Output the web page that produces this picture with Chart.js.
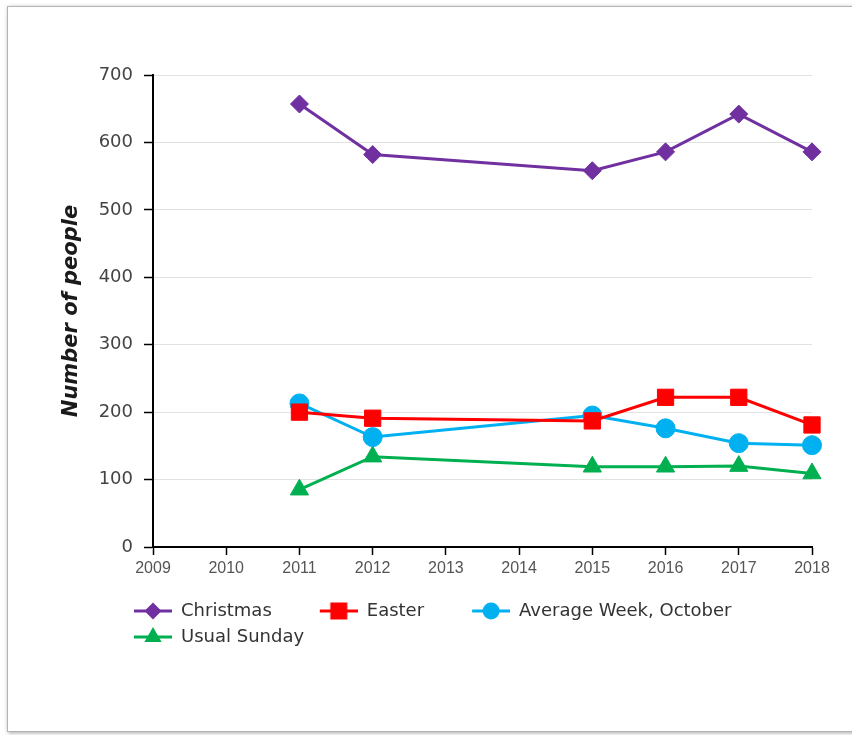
<!DOCTYPE html>
<html>
<head>
<meta charset="utf-8">
<script src="https://cdn.jsdelivr.net/npm/chart.js@4.4.1/dist/chart.umd.min.js"></script>
<style>
  html, body { margin: 0; padding: 0; background: #fff; overflow: hidden; }
  #frame { position: absolute; left: 7px; top: 6px; width: 900px; height: 724px;
           border: 1px solid #b4b4b4; box-shadow: 1px 1px 4px rgba(0,0,0,0.35); background: #fff; }
  #c { position: absolute; left: 0; top: 0; }
</style>
</head>
<body>
<div id="frame"></div>
<canvas id="c" width="852" height="735"></canvas>
<script>
// ---- data ----
const years = [2011, 2012, 2015, 2016, 2017, 2018];
const christmas = [657, 582, 558, 586, 642, 586];
const easter = [200, 191, 187, 222, 222, 181];
const avgWeekOctober = [213, 163, 195, 176, 154, 151];
const usualSunday = [85, 134, 119, 119, 120, 109];
const seriesNames = ['Christmas', 'Easter', 'Average Week, October', 'Usual Sunday'];
const xTickLabels = ['2009','2010','2011','2012','2013','2014','2015','2016','2017','2018'];
const yTickLabels = ['0','100','200','300','400','500','600','700'];

// ---- styles ----
const colors = ['#7030a0', '#ff0000', '#00b0f0', '#00b050'];
const shapes = ['rectRot', 'rect', 'circle', 'triangle'];
const radii = [9, 11.5, 9.5, 10.5];
const G = 40; // legend icon left gap

function pts(vals) { return years.map((y, i) => ({ x: y, y: vals[i] })); }

function makeIcon(color, shape) {
  const c = document.createElement('canvas');
  c.width = G + 38; c.height = 24;
  const ctx = c.getContext('2d');
  const cx = G + 19, cy = 12;
  ctx.strokeStyle = color; ctx.fillStyle = color; ctx.lineWidth = 3;
  ctx.beginPath(); ctx.moveTo(G, cy); ctx.lineTo(G + 38, cy); ctx.stroke();
  ctx.beginPath();
  if (shape === 'rectRot') {
    const r = 8.5;
    ctx.moveTo(cx - r, cy); ctx.lineTo(cx, cy - r); ctx.lineTo(cx + r, cy); ctx.lineTo(cx, cy + r);
  } else if (shape === 'rect') {
    const s = 8.5; ctx.rect(cx - s, cy - s, 2 * s, 2 * s);
  } else if (shape === 'circle') {
    ctx.arc(cx, cy, 8.5, 0, Math.PI * 2);
  } else {
    const r = 10;
    ctx.moveTo(cx, cy - r);
    ctx.lineTo(cx + r * Math.sin(2 * Math.PI / 3), cy - r * Math.cos(2 * Math.PI / 3));
    ctx.lineTo(cx + r * Math.sin(4 * Math.PI / 3), cy - r * Math.cos(4 * Math.PI / 3));
  }
  ctx.closePath(); ctx.fill();
  return c;
}
const icons = colors.map((c, i) => makeIcon(c, shapes[i]));

const allSeries = [christmas, easter, avgWeekOctober, usualSunday];
const datasets = allSeries.map((vals, i) => ({
  label: seriesNames[i],
  data: pts(vals),
  borderColor: colors[i],
  backgroundColor: colors[i],
  borderWidth: 3,
  pointStyle: shapes[i],
  pointRadius: radii[i],
  pointBorderWidth: 1,
  pointBackgroundColor: colors[i],
  pointBorderColor: colors[i],
  tension: 0,
  fill: false,
  clip: false
}));

new Chart(document.getElementById('c'), {
  type: 'line',
  data: { datasets },
  options: {
    responsive: false,
    animation: false,
    layout: { padding: { left: 86, right: 40, top: 75, bottom: 79 } },
    scales: {
      x: {
        type: 'linear', min: 2009, max: 2018,
        afterBuildTicks: (s) => { s.ticks = xTickLabels.map(t => ({ value: Number(t) })); },
        afterFit: (s) => { s.height = 47; },
        ticks: { callback: (v) => String(v), color: '#555', maxRotation: 0, autoSkip: false,
                 padding: 4, font: { family: 'Liberation Sans', size: 16 } },
        grid: { drawOnChartArea: false, drawTicks: true, tickLength: 8, tickColor: '#000', tickWidth: 1.5 },
        border: { color: '#000', width: 2 }
      },
      y: {
        min: 0, max: 700,
        afterBuildTicks: (s) => { s.ticks = yTickLabels.map(t => ({ value: Number(t) })); },
        afterFit: (s) => { s.width = 67; },
        ticks: { callback: (v) => String(v), color: '#444', padding: 11,
                 font: { family: 'DejaVu Sans', size: 18 } },
        grid: { color: '#e2e2e2', lineWidth: 1, tickColor: '#000', tickLength: 9, tickWidth: 1.5 },
        border: { color: '#000', width: 2 },
        title: { display: true, text: 'Number of people', color: '#1a1a1a',
                 padding: { top: -26.6, bottom: 0 },
                 font: { family: 'DejaVu Sans', size: 21, weight: 'bold', style: 'italic' } }
      }
    },
    plugins: {
      tooltip: { enabled: false },
      legend: {
        position: 'bottom', align: 'start',
        labels: {
          usePointStyle: true, pointStyleWidth: G + 38, padding: 8,
          color: '#333', font: { family: 'DejaVu Sans', size: 18 },
          generateLabels: (chart) => chart.data.datasets.map((ds, i) => ({
            text: ds.label, fillStyle: ds.borderColor, strokeStyle: ds.borderColor,
            lineWidth: 0, pointStyle: icons[i], hidden: false, datasetIndex: i, fontColor: '#333'
          }))
        }
      }
    }
  }
});
</script>
</body>
</html>
